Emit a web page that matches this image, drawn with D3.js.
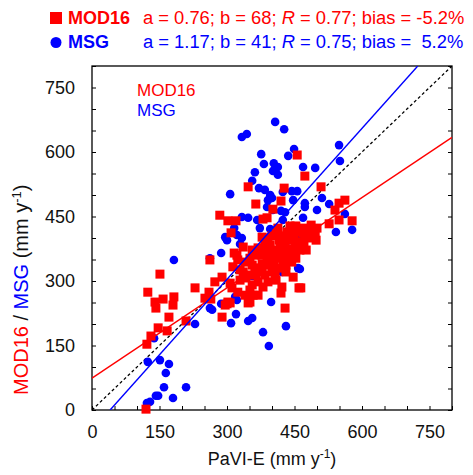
<!DOCTYPE html>
<html><head><meta charset="utf-8">
<script src="https://cdn.jsdelivr.net/npm/d3@7"></script>
<style>
body{margin:0;background:#fff}
text{font-family:"Liberation Sans",Arial,Helvetica,sans-serif}
</style></head>
<body><svg id="c" width="473" height="475"></svg>
<script>
// ---- data ----
const msgX=[407,427,333,344,449,376,436,382,404,413,402,413,362,469,496,549,551,356,307,371,384,396,391,389,400,402,424,444,456,447,473,473,511,527,500,420,429,333,347,367,424,469,542,373,396,316,322,296,333,562,578,462,287,262,300,329,356,422,458,398,262,267,229,320,309,347,356,380,393,431,287,318,322,182,138,124,151,171,164,160,209,142,147,180,122,129,429,462];
const msgY=[670,653,635,642,607,595,591,572,574,565,556,547,553,565,563,616,579,533,502,516,512,500,488,472,493,465,507,509,509,488,481,472,493,479,465,463,460,449,447,442,442,447,414,423,421,423,407,402,400,456,419,328,365,353,395,386,312,321,330,251,237,233,200,223,202,207,214,181,149,195,247,263,256,349,167,112,116,107,86,53,53,33,33,28,16,19,384,395];
const modX=[456,473,347,427,509,420,364,402,284,302,320,380,389,309,540,549,562,549,578,527,487,500,496,451,469,469,469,471,464,262,316,356,378,313,336,289,273,307,311,356,380,400,447,460,422,420,358,369,351,302,296,429,289,260,251,229,151,124,140,158,142,182,180,171,209,147,167,131,122,120,264,300,307,347,329,340,351,362,369,384,391,400,409,416,424,433,442,449,456,436,427,418,409,400,389,378,369,404,440,453,480,484,462,378,356,342,324,396,429,413,440,384,407,364,431,336,322,
  329,347,362,378,391,400,413,424,436,447,453,462,473,444,431,409,391,369,351,340,324,378,396,418,440,456,489,498,476,453];
const modY=[593,544,519,516,519,486,479,467,453,440,440,444,447,412,465,481,488,442,440,433,430,423,414,419,423,412,391,388,284,349,365,372,402,333,321,309,298,295,284,291,286,321,309,284,286,272,267,267,251,251,244,237,216,274,260,284,316,274,251,258,237,263,244,216,207,191,184,172,153,2,258,247,249,249,326,344,353,360,377,391,400,405,412,395,405,414,395,405,386,374,363,353,372,358,349,340,330,340,358,428,400,419,372,372,337,307,349,384,388,423,428,314,314,314,337,379,360,
  302,314,330,321,337,344,330,344,353,367,379,391,402,344,321,302,298,298,279,267,274,360,367,381,414,414,405,395,372,353];
const fitNames=["MOD16","MSG"];
const fitSlope=[0.70,1.17];
const fitIntercept=[74,-47];
const fitColors=["#ff0000","#0000ff"];
const axisLabels=[0,150,300,450,600,750];
const statsText=[
  ["a = 0.76; b = 68; ","R"," = 0.77; bias = -5.2%"],
  ["a = 1.17; b = 41; ","R"," = 0.75; bias =  5.2%"]
];

// ---- layout ----
const svg=d3.select("#c");
const L=92,R=452,T=66,B=410;
const x=d3.scaleLinear().domain([0,800]).range([L,R]);
const y=d3.scaleLinear().domain([0,800]).range([B,T]);
const red="#ff0000", blue="#0000ff";

svg.append("defs").append("clipPath").attr("id","pc")
  .append("rect").attr("x",L).attr("y",T).attr("width",R-L).attr("height",B-T);

const fmt=d=>axisLabels.includes(d)?d:"";
const ticks=d3.range(0,801,50);
const gx=svg.append("g").attr("transform",`translate(0,${B})`)
  .call(d3.axisBottom(x).tickValues(ticks).tickSize(-4).tickPadding(15).tickFormat(fmt));
const gy=svg.append("g").attr("transform",`translate(${L},0)`)
  .call(d3.axisLeft(y).tickValues(ticks).tickSize(-4).tickPadding(17).tickFormat(fmt));
const gr=svg.append("g").attr("transform",`translate(${R},0)`)
  .call(d3.axisRight(y).tickValues(ticks).tickSize(-4).tickFormat(""));
[gx,gy,gr].forEach(g=>{
  g.select(".domain").remove();
  g.selectAll("line").attr("stroke","#000").attr("stroke-width",1);
  g.selectAll("text").attr("font-size",18).attr("fill","#111")
   .style("font-family",'"Liberation Sans",Arial,sans-serif');
});
svg.append("rect").attr("x",L).attr("y",T).attr("width",R-L).attr("height",B-T)
  .attr("fill","none").attr("stroke","#000").attr("stroke-width",1.3);

// 1:1 line
svg.append("line").attr("clip-path","url(#pc)")
  .attr("x1",x(0)).attr("y1",y(0)).attr("x2",x(800)).attr("y2",y(800))
  .attr("stroke","#000").attr("stroke-width",1.3).attr("stroke-dasharray","3,2.5");

// points
const msg=msgX.map((v,i)=>[v,msgY[i]]);
const mod=modX.map((v,i)=>[v,modY[i]]);
svg.append("g").selectAll("circle").data(msg).join("circle")
  .attr("cx",d=>x(d[0])).attr("cy",d=>y(d[1])).attr("r",4.3).attr("fill",blue);
const s=9;
svg.append("g").selectAll("rect").data(mod).join("rect")
  .attr("x",d=>x(d[0])-s/2).attr("y",d=>y(d[1])-s/2).attr("width",s).attr("height",s).attr("fill",red);

// regression lines
fitNames.forEach((n,i)=>{
  const a=fitSlope[i], b=fitIntercept[i];
  const x0=Math.max(0,(0-b)/a), x1=Math.min(800,(800-b)/a);
  svg.append("line").attr("clip-path","url(#pc)")
    .attr("x1",x(x0)).attr("y1",y(a*x0+b)).attr("x2",x(x1)).attr("y2",y(a*x1+b))
    .attr("stroke",fitColors[i]).attr("stroke-width",1.4);
});

// inner legend
svg.append("text").attr("x",137).attr("y",96).attr("font-size",17).attr("fill",red).text("MOD16");
svg.append("text").attr("x",137).attr("y",116).attr("font-size",17).attr("fill",blue).text("MSG");

// top legend
svg.append("rect").attr("x",50).attr("y",12).attr("width",12).attr("height",12).attr("fill",red);
svg.append("circle").attr("cx",56).attr("cy",42.5).attr("r",5.5).attr("fill",blue);
[[24,red,"MOD16"],[48,blue,"MSG"]].forEach((r,i)=>{
  svg.append("text").attr("x",68).attr("y",r[0]).attr("font-size",18).attr("font-weight","bold")
    .attr("fill",r[1]).text(r[2]);
  const t=svg.append("text").attr("x",143).attr("y",r[0]).attr("font-size",18.35).attr("fill",r[1])
    .style("white-space","pre");
  t.append("tspan").text(statsText[i][0]);
  t.append("tspan").attr("font-style","italic").text(statsText[i][1]);
  t.append("tspan").text(statsText[i][2]);
});

// axis titles
const xt=svg.append("text").attr("x",(L+R)/2).attr("y",465).attr("text-anchor","middle")
  .attr("font-size",18).attr("fill","#111");
xt.append("tspan").text("PaVI-E (mm y");
xt.append("tspan").attr("font-size",12).attr("dy",-7).text("-1");
xt.append("tspan").attr("dy",7).text(")");

const yt=svg.append("text").attr("transform","translate(28,395) rotate(-90)")
  .attr("font-size",20).attr("fill","#111");
yt.append("tspan").attr("fill",red).text("MOD16");
yt.append("tspan").text(" / ");
yt.append("tspan").attr("fill",blue).text("MSG");
yt.append("tspan").text(" (mm y");
yt.append("tspan").attr("font-size",13).attr("dy",-7).text("-1");
yt.append("tspan").attr("dy",7).text(")");
</script></body></html>
